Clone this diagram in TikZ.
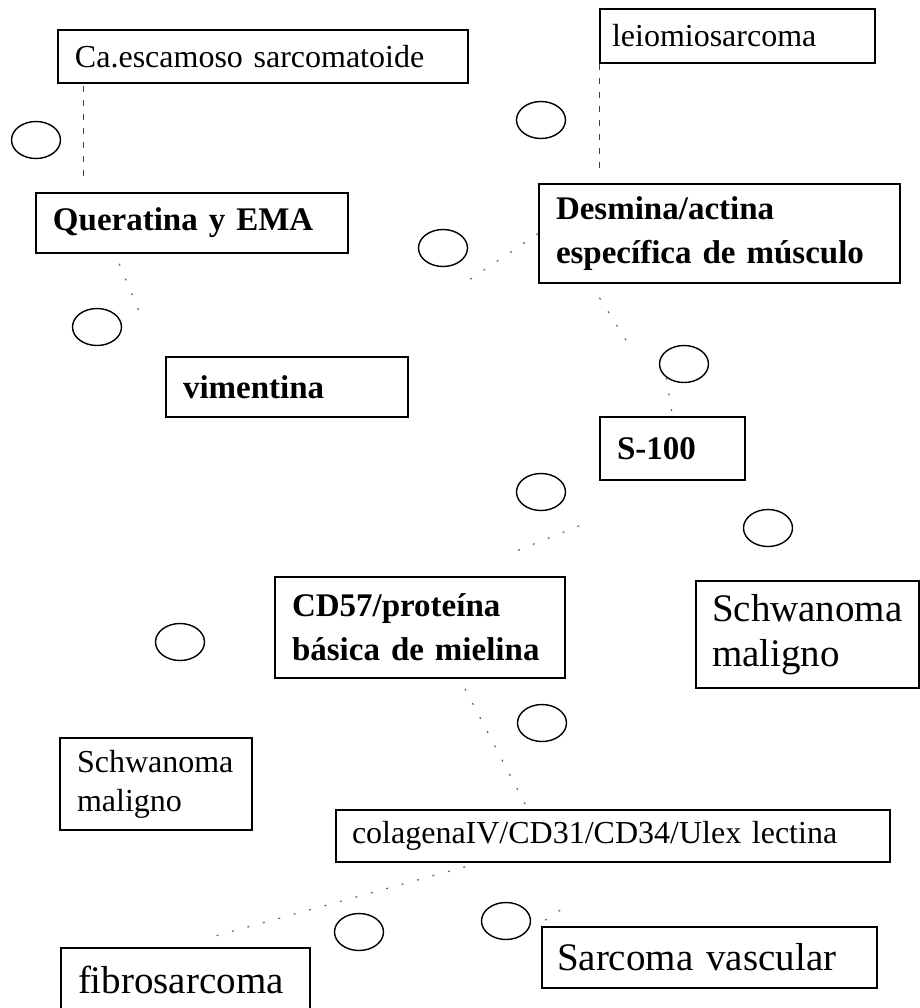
\documentclass[tikz,border=0pt]{standalone}
\usepackage{fontspec}
\setmainfont{Liberation Serif}
\usepackage{tikz}
\usetikzlibrary{shapes,calc}

\newcommand{\smalltxt}{\fontsize{16}{19.5}\selectfont}
\newcommand{\boldtxt}{\fontsize{16.5}{22}\selectfont\bfseries}
\newcommand{\largetxt}{\fontsize{19.5}{22.5}\selectfont}

\begin{document}
\begin{tikzpicture}[x=0.5pt, y=-0.5pt,
    box/.style={rectangle, draw, line width=0.8pt, inner xsep=8.5pt, inner ysep=0pt, align=left},
    oval/.style={ellipse, draw, line width=0.7pt, minimum width=24.5pt, minimum height=18.5pt, inner sep=0pt},
    vline/.style={draw=black!75, line width=0.5pt, dash pattern=on 3pt off 4pt},
    trace/.style={draw=black!60, line width=0.6pt, dash pattern=on 1pt off 7pt}]
    \useasboundingbox (0,0) rectangle (920,1008);
    \clip (0,0) rectangle (920,1008);

    % Boxes
    \node[box, text width=188pt, minimum height=26.5pt, font=\smalltxt] (ca) at (263,56.5) {Ca.escamoso sarcomatoide};
    \node[box, inner xsep=6pt, text width=125.5pt, minimum height=27pt, font=\smalltxt] (leio) at (737.5,36) {leiomiosarcoma};
    \node[box, text width=139pt, minimum height=30pt, font=\boldtxt] (queratina) at (192,223) {Queratina y EMA};
    \node[box, text width=163.5pt, minimum height=49.5pt, font=\boldtxt] (desmina) at (719.5,233.5) {Desmina/actina\\espec\'{\i}fica de m\'usculo};
    \node[box, text width=104pt, minimum height=30pt, font=\boldtxt] (vimentina) at (287,387) {vimentina};
    \node[box, text width=55.5pt, minimum height=31.5pt, font=\boldtxt] (s100) at (672.5,448.5) {S-100};
    \node[box, text width=128pt, minimum height=50.5pt, font=\boldtxt] (cd57) at (420,627.5) {CD57/prote\'{\i}na\\b\'asica de mielina};
    \node[box, inner xsep=8pt, text width=95.5pt, minimum height=53.5pt, font=\largetxt] (schwbig) at (807.5,634.5) {Schwanoma\\maligno};
    \node[box, text width=79pt, minimum height=46pt, font=\smalltxt] (schwsmall) at (156,784) {Schwanoma\\maligno};
    \node[box, inner xsep=8pt, text width=261pt, minimum height=26pt, font=\smalltxt] (colagena) at (613,836) {colagenaIV/CD31/CD34/Ulex lectina};
    \node[box, text width=107.5pt, minimum height=32pt, font=\largetxt] (fibro) at (185.5,980) {fibrosarcoma};
    \node[box, inner xsep=7.5pt, text width=152.5pt, minimum height=30.5pt, font=\largetxt] (sarcvasc) at (709.5,957.5) {Sarcoma vascular};

    % Ovals
    \node[oval] (o1) at (36,140) {};
    \node[oval] (o2) at (541,120) {};
    \node[oval] (o3) at (443,248) {};
    \node[oval] (o4) at (97,327) {};
    \node[oval] (o5) at (684,364) {};
    \node[oval] (o6) at (541,492) {};
    \node[oval] (o7) at (768,528) {};
    \node[oval] (o8) at (180,642) {};
    \node[oval] (o9) at (542,723) {};
    \node[oval] (o10) at (359,932) {};
    \node[oval] (o11) at (506,921) {};

    % Connectors (what is left of them)
    \draw[vline] ($(ca.south west)+(26,2)$) -- ($(ca.south west |- queratina.north)+(26,-13)$);
    \draw[vline] (leio.south west) -- ($(leio.south west |- desmina.north)+(0,-14)$);
    \draw[trace] ($(queratina.south west)+(84,10)$) -- ($(vimentina.north west)+(-22,-35)$);
    \draw[trace] (desmina.west) -- ($(o3.south east)+(3,22)$);
    \draw[trace] ($(desmina.south)+(-120,14)$) -- ($(o5.north west)+(-40,-10)$);
    \draw[trace] (o5.south west) -- (s100.north);
    \draw[trace] ($(s100.south west)+(-20,45)$) -- ($(cd57.north east)+(-50,-25)$);
    \draw[trace] ($(cd57.south)+(45,10)$) -- ($(colagena.north west)+(190,-5)$);
    \draw[trace] ($(colagena.south west)+(130,4)$) -- ($(fibro.north east)+(-100,-10)$);
    \draw[trace] ($(sarcvasc.north west)+(4,-6)$) -- ($(sarcvasc.north west)+(22,-18)$);
\end{tikzpicture}
\end{document}
